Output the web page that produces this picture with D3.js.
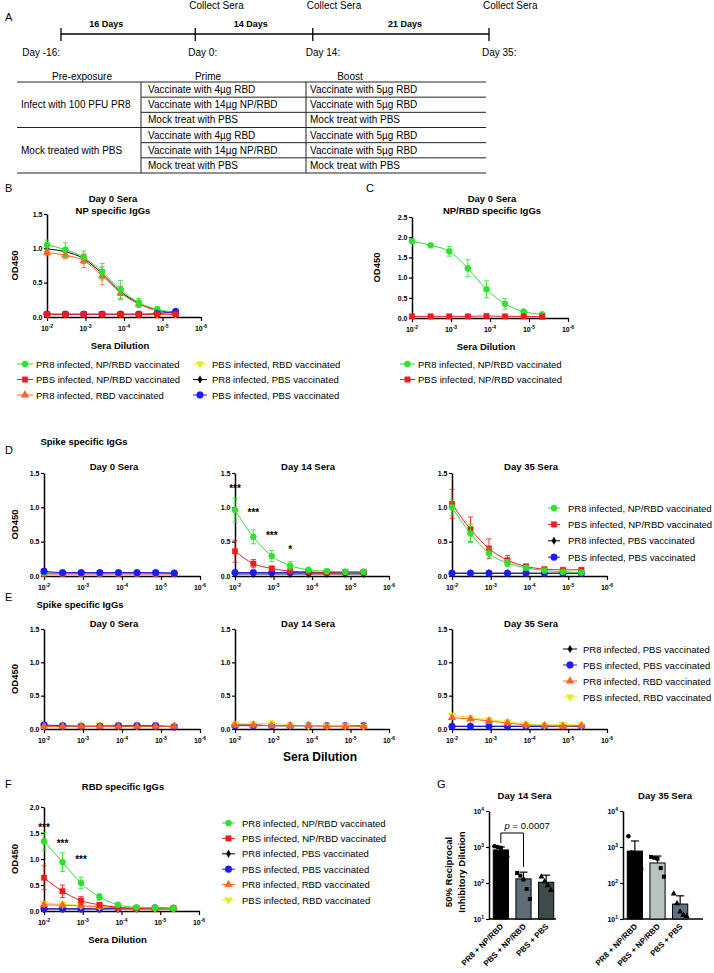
<!DOCTYPE html>
<html><head><meta charset="utf-8">
<script src="https://cdn.jsdelivr.net/npm/d3@7/dist/d3.min.js"></script>
<style>
body{margin:0;background:#fff}
svg{font-family:"Liberation Sans",Arial,Helvetica,sans-serif}
</style></head>
<body><svg id="fig" width="714" height="973"></svg>
<script>
// ================= DATA =================
const timelineDays = [-16, 0, 14, 35];
const timelineDayLabels = ["Day -16:", "Day 0:", "Day 14:", "Day 35:"];
const collectDays = [0, 14, 35];
const segmentLabels = ["16 Days", "14 Days", "21 Days"];
const segmentLabelDays = [-10.6, 6.6, 25];

const tableHeaders = ["Pre-exposure", "Prime", "Boost"];
const preExposureGroups = ["Infect with 100 PFU PR8", "Mock treated with PBS"];
const primeTreatments = ["Vaccinate with 4µg RBD", "Vaccinate with 14µg NP/RBD", "Mock treat with PBS",
                         "Vaccinate with 4µg RBD", "Vaccinate with 14µg NP/RBD", "Mock treat with PBS"];
const boostTreatments = ["Vaccinate with 5µg RBD", "Vaccinate with 5µg RBD", "Mock treat with PBS",
                         "Vaccinate with 5µg RBD", "Vaccinate with 5µg RBD", "Mock treat with PBS"];

const dilutions = [1e-2, 3.33e-3, 1.11e-3, 3.70e-4, 1.23e-4, 4.12e-5, 1.37e-5, 4.57e-6];
const dilutionTicks = [1e-2, 1e-3, 1e-4, 1e-5, 1e-6];
const dilutionTickExps = ["-2", "-3", "-4", "-5", "-6"];

const seriesNames = {
  pr8np: "PR8 infected, NP/RBD vaccinated",
  pbsnp: "PBS infected, NP/RBD vaccinated",
  pr8rbd: "PR8 infected, RBD vaccinated",
  pbsrbd: "PBS infected, RBD vaccinated",
  pr8pbs: "PR8 infected, PBS vaccinated",
  pbspbs: "PBS infected, PBS vaccinated"
};

// Panel B: Day 0 NP specific IgGs
const bPr8np = [1.05, 0.98, 0.87, 0.66, 0.40, 0.21, 0.11, 0.07];
const bPr8npErr = [0.07, 0.10, 0.09, 0.12, 0.13, 0.06, 0.04, 0.02];
const bPbsnp = [0.04, 0.04, 0.04, 0.04, 0.04, 0.04, 0.04, 0.04];
const bPr8rbd = [0.94, 0.90, 0.82, 0.60, 0.35, 0.19, 0.09, 0.05];
const bPr8rbdErr = [0.05, 0.05, 0.10, 0.13, 0.10, 0.05, 0.03, 0.02];
const bPbsrbd = [0.04, 0.04, 0.04, 0.04, 0.04, 0.04, 0.04, 0.04];
const bPr8pbs = [0.99, 0.95, 0.85, 0.63, 0.37, 0.20, 0.10, 0.06];
const bPr8pbsErr = [0.04, 0.04, 0.05, 0.06, 0.05, 0.03, 0.02, 0.01];
const bPbspbs = [0.04, 0.04, 0.04, 0.04, 0.04, 0.04, 0.05, 0.08];

// Panel C: Day 0 NP/RBD specific IgGs
const cPr8np = [1.90, 1.80, 1.65, 1.23, 0.71, 0.35, 0.16, 0.09];
const cPr8npErr = [0.04, 0.02, 0.12, 0.21, 0.21, 0.13, 0.04, 0.02];
const cPbsnp = [0.04, 0.04, 0.04, 0.04, 0.05, 0.04, 0.04, 0.03];

// Panel D: Spike specific IgGs
const d0Pr8np = [0.04, 0.04, 0.04, 0.04, 0.04, 0.04, 0.04, 0.04];
const d0Pbsnp = [0.03, 0.03, 0.03, 0.03, 0.03, 0.03, 0.03, 0.03];
const d0Pr8pbs = [0.04, 0.04, 0.04, 0.04, 0.04, 0.04, 0.04, 0.04];
const d0Pbspbs = [0.07, 0.05, 0.05, 0.05, 0.05, 0.05, 0.05, 0.04];
const d14Pr8np = [0.96, 0.57, 0.29, 0.15, 0.09, 0.07, 0.06, 0.06];
const d14Pr8npErr = [0.17, 0.10, 0.08, 0.06, 0.02, 0.01, 0.01, 0.01];
const d14Pbsnp = [0.36, 0.18, 0.11, 0.07, 0.06, 0.05, 0.06, 0.06];
const d14PbsnpErr = [0.16, 0.06, 0.03, 0.02, 0.01, 0.01, 0.01, 0.01];
const d14Pr8pbs = [0.03, 0.03, 0.03, 0.03, 0.03, 0.03, 0.03, 0.03];
const d14Pbspbs = [0.05, 0.05, 0.05, 0.05, 0.05, 0.05, 0.05, 0.05];
const d35Pr8np = [1.00, 0.62, 0.33, 0.19, 0.12, 0.08, 0.06, 0.05];
const d35Pr8npErr = [0.12, 0.13, 0.08, 0.05, 0.03, 0.01, 0.01, 0.01];
const d35Pbsnp = [1.05, 0.68, 0.40, 0.23, 0.14, 0.10, 0.09, 0.09];
const d35PbsnpErr = [0.21, 0.18, 0.14, 0.07, 0.03, 0.02, 0.02, 0.02];
const d35Pr8pbs = [0.04, 0.04, 0.04, 0.04, 0.04, 0.04, 0.04, 0.04];
const d35Pbspbs = [0.04, 0.04, 0.04, 0.04, 0.04, 0.04, 0.04, 0.04];
const d14Stars = ["***", "***", "***", "*"];
const d14StarLevels = [1.22, 0.87, 0.54, 0.33];

// Panel E: Spike specific IgGs (RBD / PBS groups)
const e0Pr8pbs = [0.04, 0.04, 0.04, 0.04, 0.04, 0.04, 0.04, 0.04];
const e0Pbspbs = [0.06, 0.05, 0.04, 0.04, 0.05, 0.05, 0.05, 0.03];
const e0Pr8rbd = [0.04, 0.04, 0.04, 0.04, 0.04, 0.04, 0.04, 0.04];
const e0Pbsrbd = [0.05, 0.05, 0.05, 0.06, 0.05, 0.05, 0.05, 0.05];
const e14Pr8pbs = [0.06, 0.06, 0.05, 0.05, 0.05, 0.05, 0.05, 0.05];
const e14Pbspbs = [0.05, 0.05, 0.05, 0.05, 0.05, 0.05, 0.05, 0.05];
const e14Pr8rbd = [0.06, 0.06, 0.05, 0.05, 0.05, 0.04, 0.04, 0.04];
const e14Pbsrbd = [0.08, 0.08, 0.09, 0.06, 0.05, 0.05, 0.05, 0.04];
const e14PbsrbdErr = [0.02, 0.02, 0.03, 0.01, 0.01, 0.01, 0.01, 0.01];
const e35Pr8pbs = [0.04, 0.04, 0.04, 0.04, 0.04, 0.04, 0.04, 0.04];
const e35Pbspbs = [0.04, 0.04, 0.04, 0.04, 0.04, 0.04, 0.04, 0.04];
const e35Pr8rbd = [0.17, 0.15, 0.12, 0.09, 0.06, 0.05, 0.04, 0.05];
const e35Pbsrbd = [0.21, 0.17, 0.14, 0.11, 0.07, 0.06, 0.07, 0.06];

// Panel F: RBD specific IgGs
const fPr8np = [1.34, 0.94, 0.54, 0.27, 0.12, 0.07, 0.06, 0.05];
const fPr8npErr = [0.17, 0.18, 0.11, 0.06, 0.02, 0.01, 0.01, 0.01];
const fPbsnp = [0.64, 0.38, 0.20, 0.12, 0.07, 0.05, 0.05, 0.05];
const fPbsnpErr = [0.23, 0.12, 0.08, 0.04, 0.02, 0.01, 0.01, 0.01];
const fPr8pbs = [0.04, 0.04, 0.04, 0.04, 0.04, 0.04, 0.04, 0.04];
const fPbspbs = [0.04, 0.04, 0.04, 0.04, 0.05, 0.05, 0.06, 0.05];
const fPr8rbd = [0.12, 0.11, 0.10, 0.08, 0.06, 0.05, 0.05, 0.05];
const fPbsrbd = [0.15, 0.13, 0.11, 0.09, 0.07, 0.06, 0.05, 0.05];
const fStars = ["***", "***", "***"];
const fStarLevels = [1.54, 1.23, 0.92];

// Panel G: neutralization
const gGroups = ["PR8 + NP/RBD", "PBS + NP/RBD", "PBS + PBS"];
const gTickValues = [10, 100, 1000, 10000];
const gTickExps = ["1", "2", "3", "4"];
const g14Means = [830, 130, 105];
const g14ErrTop = [1000, 200, 165];
const g14Points = [[1050, 1000, 960, 600, 540], [190, 160, 125, 68, 36], [150, 110, 85, 63]];
const g35Means = [770, 360, 26];
const g35ErrTop = [1470, 560, 44];
const g35Points = [[2000, 700, 500, 400, 250], [530, 500, 470, 260, 150], [50, 27, 16, 13, 12]];
const g14Bracket = [2450, 1290, 280]; // top, left leg end, right leg end
const g14PValue = "0.0007";

// ================= STYLE =================
const FONT = '"Liberation Sans", Arial, Helvetica, sans-serif';
const st = {
  pr8np:  {color: "#2fe02f", sym: d3.symbolCircle, size: 30, rot: 0},
  pbsnp:  {color: "#f01b1b", sym: d3.symbolSquare, size: 30, rot: 0},
  pr8rbd: {color: "#ff6228", sym: d3.symbolTriangle, size: 26, rot: 0},
  pbsrbd: {color: "#e3ee20", sym: d3.symbolTriangle, size: 26, rot: 180},
  pr8pbs: {color: "#000000", sym: d3.symbolDiamond, size: 16, rot: 0},
  pbspbs: {color: "#1b1bf2", sym: d3.symbolCircle, size: 36, rot: 0}
};

const svg = d3.select("#fig");

function txt(x, y, s, o = {}) {
  const t = svg.append("text").attr("x", x).attr("y", y).text(s)
    .attr("font-size", o.size || 10).attr("font-family", FONT)
    .attr("text-anchor", o.anchor || "start").attr("fill", o.fill || "#000");
  if (o.bold) t.attr("font-weight", "bold");
  if (o.rotate !== undefined) t.attr("transform", `rotate(${o.rotate},${x},${y})`);
  return t;
}

// ================= PANEL A =================
txt(5, 21, "A", {size: 11});
const tl = d3.scaleLinear().domain([-16, 35]).range([61, 489]);
svg.append("line").attr("x1", tl(-16)).attr("x2", tl(35)).attr("y1", 34).attr("y2", 34)
  .attr("stroke", "#000").attr("stroke-width", 1.3);
timelineDays.forEach((d, i) => {
  svg.append("line").attr("x1", tl(d)).attr("x2", tl(d)).attr("y1", 28).attr("y2", 41)
    .attr("stroke", "#000").attr("stroke-width", 1.3);
  if (i === 0) txt(tl(d) - 1, 56, timelineDayLabels[i], {size: 10, anchor: "end"});
  else txt(tl(d) - 7, 56, timelineDayLabels[i], {size: 10});
});
collectDays.forEach(d => txt(tl(d) - 6, 9, "Collect Sera", {size: 10}));
segmentLabels.forEach((s, i) => txt(tl(segmentLabelDays[i]), 27, s, {size: 9, bold: true, anchor: "middle"}));

// table
const tabX = [17, 141, 306, 486];
const rowY = d3.scaleLinear().domain([0, 6]).range([82, 173]);
txt(82, 80, tableHeaders[0], {size: 10, anchor: "middle"});
txt(208, 80, tableHeaders[1], {size: 10, anchor: "middle"});
txt(350, 80, tableHeaders[2], {size: 10, anchor: "middle"});
[0, 3, 6].forEach(r => svg.append("line").attr("x1", tabX[0]).attr("x2", tabX[3])
  .attr("y1", rowY(r)).attr("y2", rowY(r)).attr("stroke", "#222").attr("stroke-width", 1));
[1, 2, 4, 5].forEach(r => svg.append("line").attr("x1", tabX[1]).attr("x2", tabX[3])
  .attr("y1", rowY(r)).attr("y2", rowY(r)).attr("stroke", "#222").attr("stroke-width", 1));
[1, 2].forEach(c => svg.append("line").attr("x1", tabX[c]).attr("x2", tabX[c])
  .attr("y1", rowY(0)).attr("y2", rowY(6)).attr("stroke", "#222").attr("stroke-width", 1));
preExposureGroups.forEach((s, i) => txt(21, rowY(i * 3 + 1.5) + 3.5, s, {size: 10}));
primeTreatments.forEach((s, i) => txt(148, rowY(i + 0.5) + 3.5, s, {size: 10}));
boostTreatments.forEach((s, i) => txt(310, rowY(i + 0.5) + 3.5, s, {size: 10}));

// ================= DILUTION CHARTS =================
function marker(g, key, x, y, scale = 1) {
  const s = st[key];
  g.append("path").attr("d", d3.symbol().type(s.sym).size(s.size * scale)())
    .attr("transform", `translate(${x},${y}) rotate(${s.rot})`)
    .attr("fill", s.color).attr("stroke", s.color).attr("stroke-width", 0.4);
}

function dilChart(o) {
  const g = svg.append("g");
  const x = d3.scaleLog().domain([1e-2, 1e-6]).range([o.x0, o.x1]);
  const y = d3.scaleLinear().domain([0, o.ymax]).range([o.yZero, o.yTop]);
  const xa = g.append("g").attr("transform", `translate(0,${o.yZero})`)
    .call(d3.axisBottom(x).tickValues(dilutionTicks).tickFormat("").tickSize(4).tickSizeOuter(0));
  const ya = g.append("g").attr("transform", `translate(${o.x0},0)`)
    .call(d3.axisLeft(y).tickValues(o.yticks).tickFormat(d3.format(".1f")).tickSize(3).tickSizeOuter(0));
  [xa, ya].forEach(a => {
    a.attr("font-family", null).attr("font-size", null);
    a.select(".domain").attr("stroke-width", 1.5);
    a.selectAll(".tick line").attr("stroke-width", 1.2);
  });
  ya.selectAll("text").attr("font-size", 7).attr("font-weight", "bold").attr("font-family", FONT).attr("x", -4.5);
  dilutionTicks.forEach((t, i) => {
    const tx = g.append("text").attr("x", x(t)).attr("y", o.yZero + 14).attr("text-anchor", "middle")
      .attr("font-size", 7).attr("font-weight", "bold").attr("font-family", FONT);
    tx.append("tspan").text("10");
    tx.append("tspan").attr("dy", -3).attr("font-size", 5).text(dilutionTickExps[i]);
  });
  // series
  o.series.forEach(s => {
    const pts = dilutions.map((d, i) => ({d, v: s.v[i], e: s.e ? s.e[i] : 0}));
    const col = st[s.key].color;
    g.append("path").datum(pts)
      .attr("d", d3.line().x(p => x(p.d)).y(p => y(p.v)).curve(o.curve || d3.curveMonotoneX))
      .attr("fill", "none").attr("stroke", col).attr("stroke-width", 1);
    pts.forEach(p => {
      if (p.e > 0.015) {
        const eg = g.append("g").attr("stroke", col).attr("stroke-width", 1).attr("opacity", 0.85);
        eg.append("line").attr("x1", x(p.d)).attr("x2", x(p.d)).attr("y1", y(p.v - p.e)).attr("y2", y(p.v + p.e));
        [p.v - p.e, p.v + p.e].forEach(v => eg.append("line").attr("x1", x(p.d) - 2.5).attr("x2", x(p.d) + 2.5)
          .attr("y1", y(v)).attr("y2", y(v)));
      }
      marker(g, s.key, x(p.d), y(p.v));
    });
  });
  // axis labels
  if (o.ylab) {
    const cy = (o.yZero + o.yTop) / 2;
    txt(o.ylabX, cy, "OD450", {size: 9.5, bold: true, anchor: "middle", rotate: -90}).attr("dy", 3);
  }
  if (o.xlab) txt((o.x0 + o.x1) / 2 - 4, o.yZero + 32, "Sera Dilution", {size: 9.5, bold: true, anchor: "middle"});
  if (o.title) txt(o.titleX, o.titleY, o.title, {size: 9.5, bold: true, anchor: "middle"});
  if (o.title2) txt(o.titleX, o.titleY + 12, o.title2, {size: 9.5, bold: true, anchor: "middle"});
  if (o.stars) o.stars.forEach((s, i) => txt(x(dilutions[i]), y(o.starLevels[i]), s, {size: 10, bold: true, anchor: "middle"}));
  return {x, y};
}

function legend(x0, x1, tx, y0, dy, keys) {
  keys.forEach((k, i) => {
    const yy = y0 + i * dy;
    const g = svg.append("g");
    g.append("line").attr("x1", x0).attr("x2", x1).attr("y1", yy).attr("y2", yy)
      .attr("stroke", st[k].color).attr("stroke-width", 1);
    marker(g, k, (x0 + x1) / 2, yy);
    txt(tx, yy + 3.5, seriesNames[k], {size: 9.5});
  });
}

// Panel B
txt(5, 192, "B", {size: 11});
dilChart({x0: 47, x1: 201, yZero: 317, yTop: 214, ymax: 1.5, yticks: [0, 0.5, 1.0, 1.5],
  ylab: true, ylabX: 15, xlab: true, title: "Day 0 Sera", title2: "NP specific IgGs", titleX: 113, titleY: 202,
  series: [
    {key: "pbsrbd", v: bPbsrbd}, {key: "pr8pbs", v: bPr8pbs, e: bPr8pbsErr},
    {key: "pr8rbd", v: bPr8rbd, e: bPr8rbdErr}, {key: "pr8np", v: bPr8np, e: bPr8npErr},
    {key: "pbspbs", v: bPbspbs}, {key: "pbsnp", v: bPbsnp}]});
legend(17, 33, 36, 364, 15.5, ["pr8np", "pbsnp", "pr8rbd"]);
legend(193, 207, 212, 364, 15.5, ["pbsrbd", "pr8pbs", "pbspbs"]);

// Panel C
txt(366, 192, "C", {size: 11});
dilChart({x0: 412, x1: 568, yZero: 318, yTop: 217, ymax: 2.5, yticks: [0, 0.5, 1.0, 1.5, 2.0, 2.5],
  ylab: true, ylabX: 377, xlab: true, title: "Day 0 Sera", title2: "NP/RBD specific IgGs", titleX: 492, titleY: 202,
  series: [{key: "pr8np", v: cPr8np, e: cPr8npErr}, {key: "pbsnp", v: cPbsnp}]});
legend(400, 415, 418, 364, 15.5, ["pr8np", "pbsnp"]);

// Panel D
const colX0 = [44, 235, 452], colX1 = [200, 389, 607];
const colTitleX = [114, 308, 531];
const dayTitles = ["Day 0 Sera", "Day 14 Sera", "Day 35 Sera"];
txt(5, 454, "D", {size: 11});
txt(84, 445, "Spike specific IgGs", {size: 9.5, bold: true, anchor: "middle"});
const dSeries = [
  [{key: "pr8pbs", v: d0Pr8pbs}, {key: "pbsnp", v: d0Pbsnp}, {key: "pr8np", v: d0Pr8np}, {key: "pbspbs", v: d0Pbspbs}],
  [{key: "pr8pbs", v: d14Pr8pbs}, {key: "pbspbs", v: d14Pbspbs}, {key: "pbsnp", v: d14Pbsnp, e: d14PbsnpErr}, {key: "pr8np", v: d14Pr8np, e: d14Pr8npErr}],
  [{key: "pr8pbs", v: d35Pr8pbs}, {key: "pbspbs", v: d35Pbspbs}, {key: "pbsnp", v: d35Pbsnp, e: d35PbsnpErr}, {key: "pr8np", v: d35Pr8np, e: d35Pr8npErr}]
];
dSeries.forEach((ser, c) => dilChart({x0: colX0[c], x1: colX1[c], yZero: 576, yTop: 473, ymax: 1.5,
  yticks: [0, 0.5, 1.0, 1.5], ylab: c === 0, ylabX: 15, title: dayTitles[c], titleX: colTitleX[c], titleY: 470,
  series: ser, stars: c === 1 ? d14Stars : null, starLevels: d14StarLevels}));
legend(548, 560, 568, 508, 16.4, ["pr8np", "pbsnp", "pr8pbs", "pbspbs"]);

// Panel E
txt(5, 601, "E", {size: 11});
txt(80, 608, "Spike specific IgGs", {size: 9.5, bold: true, anchor: "middle"});
const eSeries = [
  [{key: "pr8pbs", v: e0Pr8pbs}, {key: "pbsrbd", v: e0Pbsrbd}, {key: "pbspbs", v: e0Pbspbs}, {key: "pr8rbd", v: e0Pr8rbd}],
  [{key: "pr8pbs", v: e14Pr8pbs}, {key: "pbspbs", v: e14Pbspbs}, {key: "pbsrbd", v: e14Pbsrbd, e: e14PbsrbdErr}, {key: "pr8rbd", v: e14Pr8rbd}],
  [{key: "pr8pbs", v: e35Pr8pbs}, {key: "pbspbs", v: e35Pbspbs}, {key: "pbsrbd", v: e35Pbsrbd}, {key: "pr8rbd", v: e35Pr8rbd}]
];
eSeries.forEach((ser, c) => dilChart({x0: colX0[c], x1: colX1[c], yZero: 729, yTop: 629, ymax: 1.5,
  yticks: [0, 0.5, 1.0, 1.5], ylab: c === 0, ylabX: 15, title: dayTitles[c], titleX: colTitleX[c], titleY: 627,
  series: ser, curve: d3.curveLinear}));
txt(320, 761, "Sera Dilution", {size: 12, bold: true, anchor: "middle"});
legend(563, 577, 583, 649, 16, ["pr8pbs", "pbspbs", "pr8rbd", "pbsrbd"]);

// Panel F
txt(5, 788, "F", {size: 11});
dilChart({x0: 44, x1: 199, yZero: 911, yTop: 807, ymax: 2.0, yticks: [0, 0.5, 1.0, 1.5, 2.0],
  ylab: true, ylabX: 15, xlab: true, title: "RBD specific IgGs", titleX: 123, titleY: 790,
  series: [{key: "pr8pbs", v: fPr8pbs}, {key: "pbspbs", v: fPbspbs},
    {key: "pbsrbd", v: fPbsrbd}, {key: "pr8rbd", v: fPr8rbd},
    {key: "pbsnp", v: fPbsnp, e: fPbsnpErr}, {key: "pr8np", v: fPr8np, e: fPr8npErr}],
  stars: fStars, starLevels: fStarLevels});
legend(222, 235, 242, 823, 15.4, ["pr8np", "pbsnp", "pr8pbs", "pbspbs", "pr8rbd", "pbsrbd"]);

// ================= PANEL G =================
txt(437, 788, "G", {size: 11});
const barSyms = [d3.symbolCircle, d3.symbolSquare, d3.symbolTriangle];
function barChart(o) {
  const g = svg.append("g");
  const x = d3.scaleBand().domain(gGroups).range([o.x0 + 2, o.bandEnd]).paddingInner(0.33).paddingOuter(0.1);
  const y = d3.scaleLog().domain([10, 10000]).range([919, 811]);
  const ya = g.append("g").attr("transform", `translate(${o.x0},0)`)
    .call(d3.axisLeft(y).tickValues(gTickValues).tickFormat("").tickSize(3).tickSizeOuter(0));
  ya.select(".domain").attr("stroke-width", 1.5);
  ya.selectAll(".tick line").attr("stroke-width", 1.2);
  gTickValues.forEach((t, i) => {
    const tx = g.append("text").attr("x", o.x0 - 5).attr("y", y(t) + 2.5).attr("text-anchor", "end")
      .attr("font-size", 7).attr("font-weight", "bold").attr("font-family", FONT);
    tx.append("tspan").text("10");
    tx.append("tspan").attr("dy", -3).attr("font-size", 5).text(gTickExps[i]);
  });
  g.append("line").attr("x1", o.x0).attr("x2", o.xEnd).attr("y1", y(10)).attr("y2", y(10))
    .attr("stroke", "#000").attr("stroke-width", 1.5);
  gGroups.forEach((grp, i) => {
    const bx = x(grp), bw = x.bandwidth(), cx = bx + bw / 2;
    // error bar (upper)
    g.append("line").attr("x1", cx).attr("x2", cx).attr("y1", y(o.means[i])).attr("y2", y(o.errTop[i]))
      .attr("stroke", "#000").attr("stroke-width", 1.2);
    g.append("line").attr("x1", cx - 4).attr("x2", cx + 4).attr("y1", y(o.errTop[i])).attr("y2", y(o.errTop[i]))
      .attr("stroke", "#000").attr("stroke-width", 1.2);
    g.append("rect").attr("x", bx).attr("width", bw).attr("y", y(o.means[i]))
      .attr("height", y(10) - y(o.means[i])).attr("fill", o.colors[i]).attr("stroke", "#000").attr("stroke-width", 1);
    const n = o.points[i].length;
    o.points[i].forEach((v, j) => {
      g.append("path").attr("d", d3.symbol().type(barSyms[i]).size(16)())
        .attr("transform", `translate(${cx + (j - (n - 1) / 2) * 3.2},${y(v)})`).attr("fill", "#000");
    });
    const lt = g.append("text").attr("x", cx + 3).attr("y", y(10) + 8).attr("text-anchor", "end")
      .attr("font-size", 8).attr("font-weight", "bold").attr("font-family", FONT)
      .attr("transform", `rotate(-45,${cx + 3},${y(10) + 8})`).text(grp);
  });
  txt((o.x0 + o.xEnd) / 2 + 2, 799, o.title, {size: 9.5, bold: true, anchor: "middle"});
  return {x, y};
}
const g14 = barChart({x0: 489, bandEnd: 556, xEnd: 556, title: "Day 14 Sera", means: g14Means, errTop: g14ErrTop,
  points: g14Points, colors: ["#000000", "#5d6e78", "#3d4b4b"]});
barChart({x0: 623, bandEnd: 690, xEnd: 703, title: "Day 35 Sera", means: g35Means, errTop: g35ErrTop,
  points: g35Points, colors: ["#000000", "#b7c4be", "#5e7480"]});
// y label for G
txt(449, 872, "50% Reciprocal", {size: 9.5, bold: true, anchor: "middle", rotate: -90}).attr("dy", 3);
txt(462, 872, "Inhibitory Dilution", {size: 9.5, bold: true, anchor: "middle", rotate: -90}).attr("dy", 3);
// p-value bracket
{
  const c1 = g14.x(gGroups[0]) + g14.x.bandwidth() / 2, c2 = g14.x(gGroups[1]) + g14.x.bandwidth() / 2;
  const yb = g14.y;
  svg.append("path").attr("d", `M${c1},${yb(g14Bracket[1])}V${yb(g14Bracket[0])}H${c2}V${yb(g14Bracket[2])}`)
    .attr("fill", "none").attr("stroke", "#000").attr("stroke-width", 1);
  const pt = svg.append("text").attr("x", (c1 + c2) / 2 + 15).attr("y", yb(g14Bracket[0]) - 4)
    .attr("text-anchor", "middle").attr("font-size", 9.5).attr("font-family", FONT);
  pt.append("tspan").attr("font-style", "italic").text("p");
  pt.append("tspan").text(" = " + g14PValue);
}
</script></body></html>
